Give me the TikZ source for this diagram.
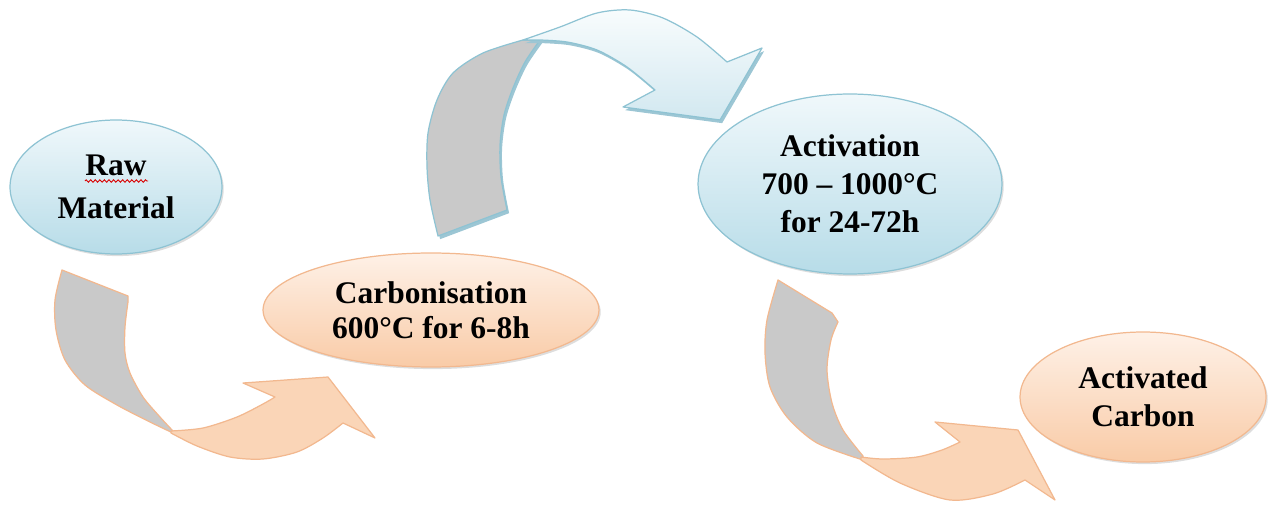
\documentclass[tikz,border=0pt]{standalone}
\usepackage{fontspec}
\setmainfont{Liberation Serif}
\usetikzlibrary{shapes.geometric,shadows,decorations.pathmorphing}

% palette
\definecolor{bluetop}{HTML}{F0F8FB}
\definecolor{bluebot}{HTML}{B7DCE8}
\definecolor{blueline}{HTML}{8EC3D3}
\definecolor{bluedeep}{HTML}{9CC6D4}
\definecolor{arrowbluetop}{HTML}{F8FCFD}
\definecolor{arrowbluebot}{HTML}{D2E8F0}
\definecolor{peachtop}{HTML}{FEF1E7}
\definecolor{peachbot}{HTML}{F9CBA7}
\definecolor{peachline}{HTML}{F2B88F}
\definecolor{peachfill}{HTML}{FAD5B7}
\definecolor{twistgrey}{HTML}{C9C9C9}

\begin{document}
\begin{tikzpicture}[x=0.02cm,y=-0.02cm,
  stage/.style={ellipse, inner sep=0pt, line width=0.7pt, align=center, text=black,
    font=\bfseries\fontsize{17.9}{#1}\selectfont,
    drop shadow={shadow xshift=1pt, shadow yshift=-1.2pt, opacity=0.22, fill=black!60}},
  bluestage/.style={stage=#1, draw=blueline, top color=bluetop, bottom color=bluebot},
  peachstage/.style={stage=#1, draw=peachline, top color=peachtop, bottom color=peachbot},
  ribbon/.style={fill=peachfill, draw=peachline, line width=0.7pt, line join=round},
  twist/.style={fill=twistgrey, draw=peachline, line width=0.7pt, line join=round},
  ribbonblue/.style={top color=arrowbluetop, bottom color=arrowbluebot, draw=blueline,
    line width=0.7pt, line join=round,
    drop shadow={shadow xshift=1.2pt, shadow yshift=-1.8pt, opacity=1, fill=bluedeep}},
  twistblue/.style={fill=twistgrey, draw=blueline, line width=0.7pt, line join=round,
    drop shadow={shadow xshift=1.2pt, shadow yshift=-1.8pt, opacity=1, fill=bluedeep}},
  spellmark/.style={draw=red!85!black, line width=0.5pt,
    decorate, decoration={zigzag, segment length=2.6pt, amplitude=0.7pt}}
]
\useasboundingbox (0,0) rectangle (1280,506);

% first bend: raw material down to carbonisation
\path[twist] (62,270) -- (128,296) -- (128,302)
  -- plot[smooth] coordinates {(128,302) (125,327) (125,353) (130,373) (143,397) (160,417) (173,431)}
  -- plot[smooth] coordinates {(173,433) (150,422) (117,405) (85,385) (65,360) (56,330) (55,300) (62,270)}
  -- cycle;
\path[ribbon] plot[smooth] coordinates {(171,431) (203,428) (237,417) (263,404) (275,397)}
  -- (243,383) -- (328,377) -- (375,438) -- (343,423)
  -- plot[smooth] coordinates {(343,423) (323,438) (297,452) (263,459) (230,457) (197,446) (171,433)}
  -- cycle;

% second bend: carbonisation up and over to activation
\path[twistblue] (438,236) -- (507,210)
  -- plot[smooth] coordinates {(507,210) (501,177) (500,145) (504,115) (513,88) (525,62) (540,40)}
  -- (523,40)
  -- plot[smooth] coordinates {(523,40) (483,53) (453,73) (437,100) (428,133) (427,167) (430,200) (438,236)}
  -- cycle;
\path[ribbonblue] plot[smooth] coordinates {(523,40) (560,27) (597,13) (630,10) (663,18) (697,37) (727,62)}
  -- (762,48) -- (720,120) -- (623,107) -- (655,90)
  -- plot[smooth] coordinates {(655,90) (627,67) (597,50) (567,42) (540,40)}
  -- cycle;

% third bend: activation down to activated carbon
\path[twist] (778,280) -- (832,313) -- (838,322)
  -- plot[smooth] coordinates {(838,322) (831,340) (827,370) (832,403) (843,430) (863,456)}
  -- plot[smooth] coordinates {(863,460) (817,443) (787,417) (770,387) (765,353) (767,320) (778,280)}
  -- cycle;
\path[ribbon] plot[smooth] coordinates {(861,457) (883,459) (917,457) (942,450) (960,442)}
  -- (935,422) -- (1018,430) -- (1055,500) -- (1025,480)
  -- plot[smooth] coordinates {(1025,480) (993,494) (950,500) (900,483) (861,460)}
  -- cycle;

% process stages
\node[bluestage=24.4pt, minimum width=4.24cm, minimum height=2.68cm] (raw) at (116,187)
  {Raw\\Material};
\draw[spellmark] (85,181) -- (148,181);

\node[peachstage=19.8pt, minimum width=6.72cm, minimum height=2.28cm] (carb) at (431,310)
  {Carbonisation\\600°C for 6-8h};

\node[bluestage=21.5pt, minimum width=6.08cm, minimum height=3.6cm] (act) at (850,184)
  {Activation\\700 – 1000°C\\for 24-72h};

\node[peachstage=21.5pt, minimum width=4.92cm, minimum height=2.6cm] (ac) at (1143,397)
  {Activated\\Carbon};
\end{tikzpicture}
\end{document}
